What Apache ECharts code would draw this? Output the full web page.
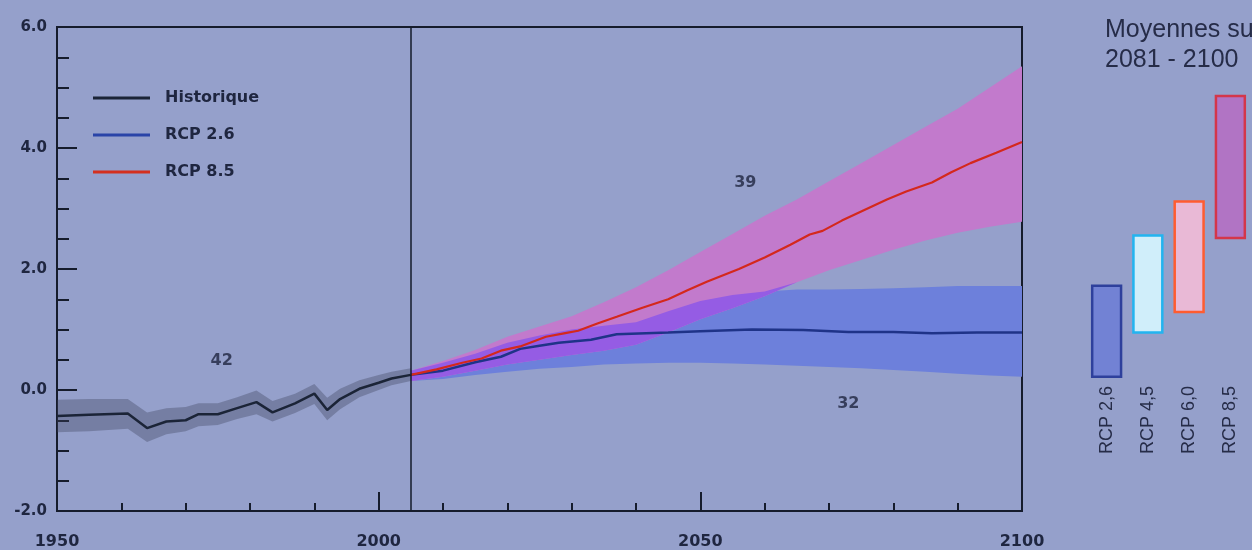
<!DOCTYPE html>
<html>
<head>
<meta charset="utf-8">
<script src="https://cdn.jsdelivr.net/npm/echarts@6/dist/echarts.min.js"></script>
<style>
html,body{margin:0;padding:0;background:#95a0cb;}
#c{width:1252px;height:550px;}
</style>
</head>
<body>
<div id="c"></div>
<script>
// ---- Historical (1950-2005) ----
const histYears  = [1950, 1955, 1961, 1964, 1967, 1970, 1972, 1975, 1978, 1981, 1983.5, 1987, 1990, 1992, 1994, 1997, 2000, 2002, 2005];
const histValues = [-0.43, -0.41, -0.39, -0.63, -0.52, -0.50, -0.40, -0.40, -0.30, -0.20, -0.37, -0.22, -0.06, -0.33, -0.15, 0.02, 0.12, 0.19, 0.25];
const histUpper  = [-0.16, -0.15, -0.15, -0.37, -0.30, -0.28, -0.22, -0.22, -0.12, -0.01, -0.18, -0.06, 0.10, -0.13, 0.02, 0.16, 0.25, 0.30, 0.36];
const histLower  = [-0.70, -0.68, -0.64, -0.86, -0.73, -0.68, -0.60, -0.58, -0.48, -0.40, -0.52, -0.38, -0.23, -0.50, -0.32, -0.12, 0.00, 0.08, 0.15];

// ---- RCP 2.6 mean ----
const rcp26Years  = [2005, 2010, 2015, 2019, 2022, 2025, 2028, 2033, 2037, 2045, 2050, 2058, 2066, 2073, 2080, 2086, 2093, 2100];
const rcp26Values = [0.25, 0.32, 0.46, 0.55, 0.68, 0.73, 0.78, 0.83, 0.92, 0.95, 0.97, 1.00, 0.99, 0.96, 0.96, 0.94, 0.95, 0.95];

// ---- RCP 8.5 mean ----
const rcp85Years  = [2005, 2009, 2013, 2016, 2019, 2022, 2026, 2029, 2031, 2034, 2037, 2041, 2045, 2048, 2051, 2056, 2060, 2064, 2067, 2069, 2072, 2076, 2079, 2082, 2086, 2089, 2092, 2096, 2100];
const rcp85Values = [0.25, 0.34, 0.45, 0.52, 0.65, 0.72, 0.88, 0.94, 0.98, 1.10, 1.21, 1.36, 1.50, 1.65, 1.79, 2.00, 2.19, 2.40, 2.57, 2.63, 2.80, 3.00, 3.15, 3.28, 3.43, 3.60, 3.75, 3.92, 4.10];

// ---- Projection spread bands ----
const bandYears = [2005, 2010, 2015, 2020, 2025, 2030, 2035, 2040, 2045, 2050, 2055, 2060, 2065, 2070, 2075, 2080, 2085, 2090, 2095, 2100];
const rcp26Upper = [0.32, 0.45, 0.60, 0.78, 0.90, 1.00, 1.06, 1.12, 1.30, 1.47, 1.57, 1.63, 1.66, 1.66, 1.67, 1.68, 1.70, 1.72, 1.72, 1.72];
const rcp26Lower = [0.15, 0.18, 0.25, 0.30, 0.35, 0.38, 0.42, 0.44, 0.45, 0.45, 0.44, 0.42, 0.40, 0.38, 0.36, 0.33, 0.30, 0.27, 0.24, 0.22];
const rcp85Upper = [0.32, 0.48, 0.66, 0.88, 1.05, 1.22, 1.45, 1.70, 1.98, 2.28, 2.58, 2.88, 3.15, 3.45, 3.75, 4.05, 4.35, 4.65, 5.00, 5.35];
const rcp85Lower = [0.15, 0.22, 0.32, 0.42, 0.50, 0.58, 0.65, 0.75, 0.95, 1.17, 1.35, 1.55, 1.78, 1.98, 2.15, 2.32, 2.47, 2.60, 2.70, 2.78];

// ---- Model counts ----
const annotations = [[1975.6, 0.48, '42'], [2057, 3.42, '39'], [2073, -0.23, '32']];

// ---- 2081-2100 means (right panel) ----
const rcpNames = ['RCP 2,6', 'RCP 4,5', 'RCP 6,0', 'RCP 8,5'];
const rcpLow   = [0.23, 0.96, 1.30, 2.52];
const rcpHigh  = [1.73, 2.56, 3.12, 4.86];

// ---- Tick labels ----
const xTickLabels = [1950, 2000, 2050, 2100];
const yTickLabels = ['-2.0', '0.0', '2.0', '4.0', '6.0'];

const boxFill   = ['#7282d4', '#d0eefa', '#e9b9d6', '#b174c4'];
const boxStroke = ['#2e409c', '#22b4f0', '#ff5c30', '#d4364a'];

const overlapLower = bandYears.map((y, i) => Math.max(rcp26Lower[i], rcp85Lower[i]));
const overlapUpper = bandYears.map((y, i) => Math.max(overlapLower[i], Math.min(rcp26Upper[i], rcp85Upper[i])));

const FONT = 'DejaVu Sans';
const FONT2 = 'Liberation Sans';
const TXT = '#1f2640';
const AX = '#161c2c';

function band(name, xs, lo, hi, color, z) {
  return {
    type: 'custom', name: name, xAxisIndex: 0, yAxisIndex: 0, silent: true, z: z,
    data: xs.map((x, i) => [x, lo[i], hi[i]]),
    renderItem: function (params, api) {
      if (params.dataIndex !== 0) return null;
      const pts = [];
      for (let i = 0; i < xs.length; i++) pts.push(api.coord([xs[i], hi[i]]));
      for (let i = xs.length - 1; i >= 0; i--) pts.push(api.coord([xs[i], lo[i]]));
      return { type: 'polygon', shape: { points: pts }, style: { fill: color } };
    }
  };
}

const chart = echarts.init(document.getElementById('c'), null, { renderer: 'canvas' });
chart.setOption({
  backgroundColor: '#95a0cb',
  animation: false,
  textStyle: { fontFamily: FONT },
  title: {
    text: 'Moyennes sur\n2081 - 2100',
    left: 1105, top: 15, padding: 0,
    textStyle: { fontFamily: FONT2, fontSize: 25, lineHeight: 30, fontWeight: 'normal', color: '#262c48' }
  },
  legend: {
    data: ['Historique', 'RCP 2.6', 'RCP 8.5'],
    orient: 'vertical', left: 93, top: 88, padding: 0,
    icon: 'rect', itemWidth: 57, itemHeight: 3, itemGap: 17,
    textStyle: { fontFamily: FONT, fontSize: 16, fontWeight: 'bold', lineHeight: 20, color: TXT, padding: [0, 0, 0, 10] }
  },
  grid: [
    { left: 57, right: 230, top: 27, bottom: 38, show: true, borderColor: AX, borderWidth: 2 },
    { left: 1086, width: 165, top: 27, bottom: 38 }
  ],
  xAxis: [
    {
      type: 'value', gridIndex: 0, min: 1950, max: 2100, interval: 50,
      axisLine: { show: true, onZero: false, lineStyle: { color: AX, width: 2 } },
      axisTick: { show: true, inside: true, length: 19, lineStyle: { color: AX, width: 2 } },
      minorTick: { show: true, splitNumber: 5, length: 8, lineStyle: { color: AX, width: 2 } },
      splitLine: { show: false },
      axisLabel: {
        margin: 23, fontSize: 16, fontWeight: 'bold', color: TXT, fontFamily: FONT,
        formatter: v => (xTickLabels.indexOf(v) >= 0 ? String(v) : '')
      }
    },
    {
      type: 'category', gridIndex: 1, data: rcpNames, offset: -130,
      axisLine: { show: false, onZero: false }, axisTick: { show: false }, splitLine: { show: false },
      axisLabel: { rotate: 90, margin: 4, fontSize: 18, fontFamily: FONT2, color: '#262c48', interval: 0 }
    }
  ],
  yAxis: [
    {
      type: 'value', gridIndex: 0, min: -2, max: 6, interval: 2,
      axisLine: { show: true, onZero: false, lineStyle: { color: AX, width: 2 } },
      axisTick: { show: true, inside: true, length: 20, lineStyle: { color: AX, width: 2 } },
      minorTick: { show: true, splitNumber: 4, length: 12, lineStyle: { color: AX, width: 2 } },
      splitLine: { show: false },
      axisLabel: {
        margin: 10, fontSize: 15, fontWeight: 'bold', color: TXT, fontFamily: FONT,
        formatter: v => yTickLabels[Math.round((v + 2) / 2)]
      }
    },
    { type: 'value', gridIndex: 1, min: -2, max: 6, show: false }
  ],
  series: [
    band('histBand', histYears, histLower, histUpper, 'rgba(60,66,92,0.36)', 1),
    band('rcp26Band', bandYears, rcp26Lower, rcp26Upper, '#6d80db', 1),
    band('rcp85Band', bandYears, rcp85Lower, rcp85Upper, '#c27acc', 1),
    band('overlapBand', bandYears, overlapLower, overlapUpper, '#955ce4', 1),
    {
      type: 'line', name: 'Historique', xAxisIndex: 0, yAxisIndex: 0, z: 3,
      data: histYears.map((y, i) => [y, histValues[i]]),
      showSymbol: false, color: '#1b2437', lineStyle: { width: 2.5, color: '#1b2437' },
      markLine: {
        silent: true, symbol: 'none', label: { show: false },
        lineStyle: { color: '#151b2a', width: 1.5, type: 'solid' },
        data: [{ xAxis: 2005 }]
      }
    },
    {
      type: 'line', name: 'RCP 2.6', xAxisIndex: 0, yAxisIndex: 0, z: 3,
      data: rcp26Years.map((y, i) => [y, rcp26Values[i]]),
      showSymbol: false, color: '#2a44a8', lineStyle: { width: 2.5, color: '#1f3388' }
    },
    {
      type: 'line', name: 'RCP 8.5', xAxisIndex: 0, yAxisIndex: 0, z: 4,
      data: rcp85Years.map((y, i) => [y, rcp85Values[i]]),
      showSymbol: false, color: '#d4301f', lineStyle: { width: 2.2, color: '#d4281c' }
    },
    {
      type: 'scatter', xAxisIndex: 0, yAxisIndex: 0, symbolSize: 0, silent: true, z: 5,
      data: annotations,
      label: { show: true, position: 'inside', formatter: p => p.data[2], fontSize: 16, fontWeight: 'bold', color: TXT, fontFamily: FONT }
    },
    {
      type: 'custom', name: 'means', xAxisIndex: 1, yAxisIndex: 1, silent: true,
      data: rcpNames.map((n, i) => [i, rcpLow[i], rcpHigh[i]]),
      renderItem: function (params, api) {
        const c = api.value(0);
        const top = api.coord([c, api.value(2)]);
        const bot = api.coord([c, api.value(1)]);
        const w = api.size([1, 0])[0] * 0.7;
        return {
          type: 'rect',
          shape: { x: top[0] - w / 2, y: top[1], width: w, height: bot[1] - top[1] },
          style: { fill: boxFill[params.dataIndex], stroke: boxStroke[params.dataIndex], lineWidth: 2.5 }
        };
      }
    }
  ]
});
</script>
</body>
</html>
